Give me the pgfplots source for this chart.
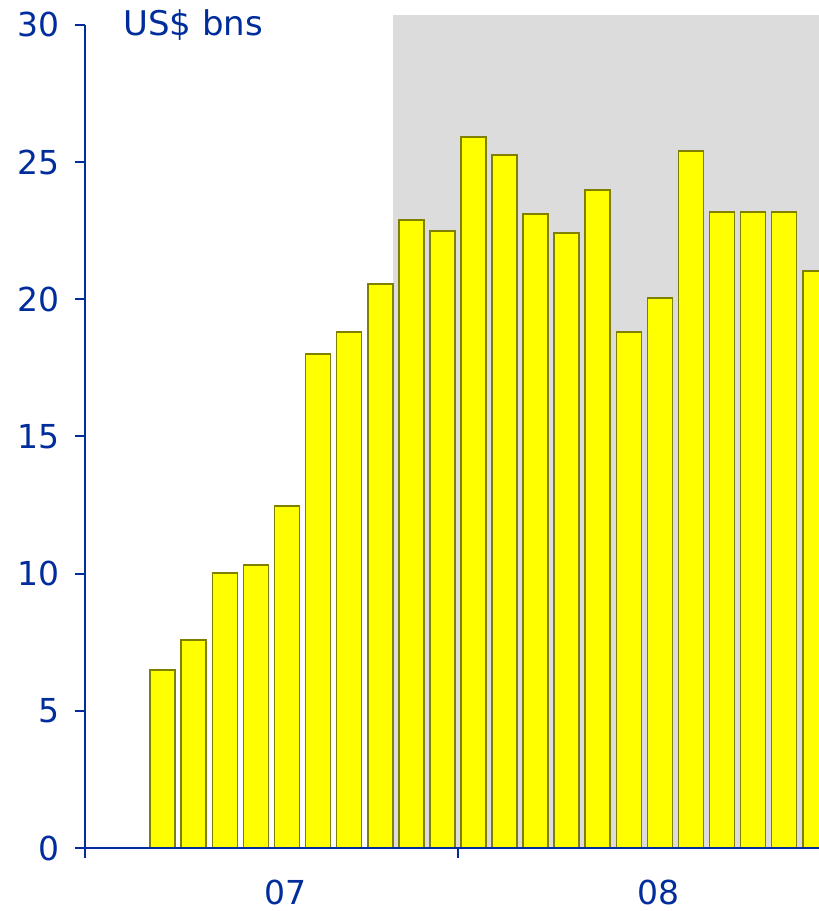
\documentclass[border=0pt]{standalone}
\usepackage{fontspec}
\setmainfont{DejaVu Sans}
\usepackage{pgfplots}
\pgfplotsset{compat=1.18}
\definecolor{txtblue}{RGB}{0,45,155}
\definecolor{baryellow}{RGB}{255,255,0}
\definecolor{baredge}{RGB}{128,128,0}
\definecolor{shadegray}{RGB}{220,220,220}

\begin{document}
\begin{tikzpicture}
\path[use as bounding box] (-42.5pt,-31.5pt) rectangle (367pt,424pt);
\begin{axis}[
    scale only axis, width=367pt, height=416.5pt,
    xmin=0, xmax=23.62, ymin=0, ymax=30.36,
    axis x line*=bottom, axis y line*=left,
    axis line style={-, txtblue, line width=1pt},
    y axis line style={draw=none},
    axis on top,
    tick align=outside, major tick length=5pt,
    tick style={txtblue, line width=1pt},
    ytick={0,5,10,15,20,25,30},
    xtick={0,12}, xticklabels={,},
    extra x ticks={6.45,18.45}, extra x tick labels={07,08},
    extra x tick style={major tick length=0pt,
        xticklabel style={yshift=-12.5pt}},
    ticklabel style={font=\fontsize{16.5}{19}\selectfont, text=txtblue},
    yticklabel style={xshift=-4pt},
    /pgf/number format/assume math mode=true,
    ybar, bar width=12.5pt,
]
\fill[shadegray] (axis cs:9.91,0) rectangle (axis cs:23.62,30.36);
\addplot[fill=baryellow, draw=baredge, line width=0.8pt] coordinates {
 (2.5,6.49) (3.5,7.58) (4.5,10.03) (5.5,10.32) (6.5,12.47) (7.5,18.01)
 (8.5,18.81) (9.5,20.56) (10.5,22.89) (11.5,22.49) (12.5,25.92) (13.5,25.26)
 (14.5,23.11) (15.5,22.42) (16.5,23.99) (17.5,18.81) (18.5,20.05) (19.5,25.41)
 (20.5,23.19) (21.5,23.19) (22.5,23.19) (23.5,21.04)
};
\end{axis}
\draw[txtblue, line width=1pt] (0,0) -- (0,411.5pt);
\node[anchor=west, text=txtblue, font=\fontsize{17}{20}\selectfont, inner sep=0pt]
  at (19pt,411.5pt) {US\$ bns};
\end{tikzpicture}
\end{document}
